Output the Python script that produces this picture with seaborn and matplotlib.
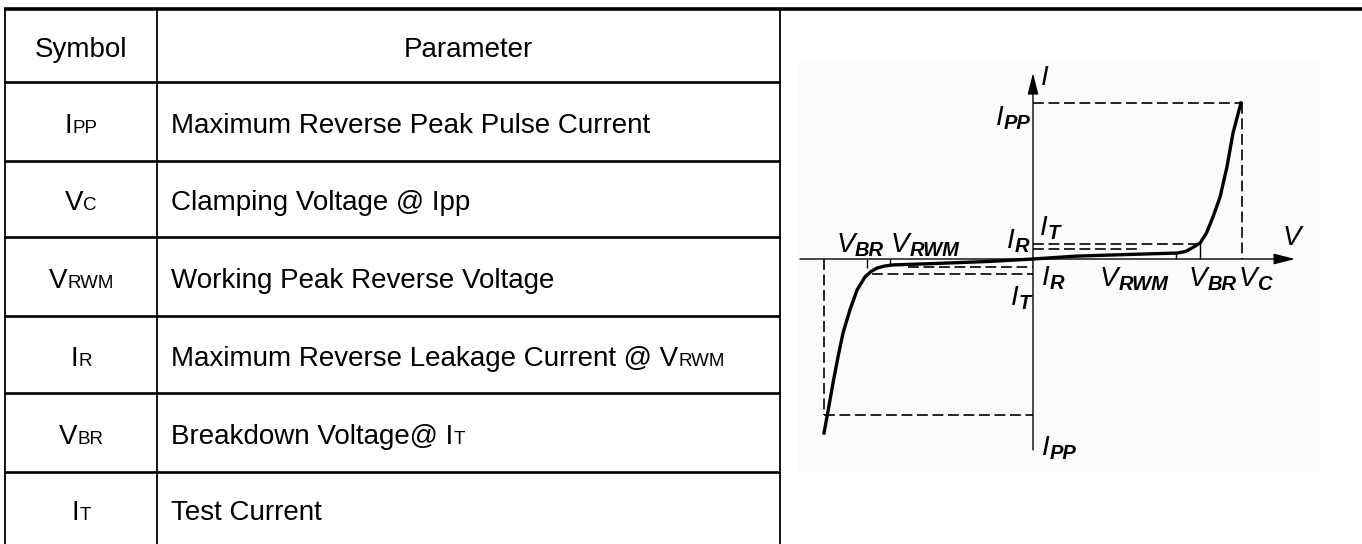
import matplotlib
matplotlib.use("Agg")
import matplotlib.pyplot as plt
import seaborn as sns
import pandas as pd

# table content
header = ["Symbol", "Parameter"]
sym_main = ["I", "V", "V", "I", "V", "I"]
sym_sub = ["PP", "C", "RWM", "R", "BR", "T"]
param_main = ["Maximum Reverse Peak Pulse Current",
              "Clamping Voltage @ Ipp",
              "Working Peak Reverse Voltage",
              "Maximum Reverse Leakage Current @ V",
              "Breakdown Voltage@ I",
              "Test Current"]
param_sub = ["", "", "", "RWM", "T", ""]

# I-V characteristic (normalised: V_C = 1, I_PP = 1)
V_C, V_BR, V_RWM = 1.0, 0.80, 0.684
I_PP, I_T, I_R = 1.0, 0.096, 0.064
I_T_NEG, I_R_NEG = -0.098, -0.05
curve_v = [-1.0, -0.98, -0.957, -0.933, -0.909, -0.876, -0.842, -0.804, -0.775, -0.746,
           -0.71, -0.67, -0.45, -0.2, 0.0, 0.2, 0.48, 0.688, 0.73, 0.765, 0.80, 0.83,
           0.861, 0.895, 0.928, 0.957, 0.995]
curve_i = [-1.115, -0.97, -0.795, -0.628, -0.474, -0.327, -0.199, -0.115, -0.08, -0.058,
           -0.045, -0.038, -0.028, -0.015, 0.0, 0.018, 0.03, 0.038, 0.048, 0.074, 0.103,
           0.167, 0.269, 0.397, 0.590, 0.808, 1.0]
tick_v = [V_RWM, V_BR, -V_RWM, -0.794]
tick_i = [0.045, 0.10, -0.038, -0.058]

W, H = 1362, 544
fig = plt.figure(figsize=(W / 100, H / 100), dpi=100)
renderer = fig.canvas.get_renderer()

# ---------- table (pixel axes) ----------
ax = fig.add_axes([0, 0, 1, 1])
ax.set_xlim(0, W)
ax.set_ylim(H, 0)
ax.axis("off")

row_y = [9, 82, 161, 237, 316, 393, 472, 552]
col_x = [5, 157, 780]

ax.hlines(9, 4, W, color="black", lw=2.6)
ax.hlines(row_y[1:-1], 4, 780, color="black", lw=1.9)
ax.vlines(col_x, 9, 552, color="black", lw=1.3)

# faint background of the pasted diagram
ax.add_patch(plt.Rectangle((798, 60), 522, 413, color="#fbfbfb", lw=0, zorder=0))


def measure(s, **kw):
    t = fig.text(0, 0, s, **kw)
    w = t.get_window_extent(renderer).width
    t.remove()
    return w


def compound(axis, x, y, main, sub, ha, main_kw, sub_kw, drop=0):
    w1 = measure(main, **main_kw)
    w2 = measure(sub, **sub_kw) if sub else 0
    total = w1 + w2
    dx = {"left": 0, "center": -total / 2, "right": -total}[ha]
    axis.annotate(main, (x, y), xytext=(dx * 0.72, 0), textcoords="offset points",
                  ha="left", va="baseline", **main_kw)
    if sub:
        axis.annotate(sub, (x, y), xytext=((dx + w1) * 0.72, -drop * 0.72),
                      textcoords="offset points", ha="left", va="baseline", **sub_kw)


tbl_main = dict(fontsize=20, family="Liberation Sans", color="black")
tbl_sub = dict(fontsize=13.5, family="Liberation Sans", color="black")

centers = [(row_y[i] + row_y[i + 1]) / 2 + 1.5 for i in range(7)]
centers[-1] = 510
compound(ax, 81, centers[0] + 10, header[0], "", "center", tbl_main, tbl_sub)
compound(ax, 468, centers[0] + 10, header[1], "", "center", tbl_main, tbl_sub)
for k in range(6):
    yb = centers[k + 1] + 10
    compound(ax, 81, yb, sym_main[k], sym_sub[k], "center", tbl_main, tbl_sub)
    compound(ax, 171, yb, param_main[k], param_sub[k], "left", tbl_main, tbl_sub)

# ---------- I-V diagram (data axes) ----------
ax2 = fig.add_axes([0, 0, 1, 1])
ax2.patch.set_alpha(0)

arrow = dict(arrowstyle="-|>,head_length=1.3,head_width=0.33", color="black",
             lw=1.0, shrinkA=0, shrinkB=0, mutation_scale=10)
ax2.annotate("", xy=(1.254, 0), xytext=(-1.115, 0), arrowprops=arrow)
ax2.annotate("", xy=(0, 1.192), xytext=(0, -1.224), arrowprops=arrow)

dash = dict(color="black", lw=1.2, ls=(0, (6.5, 2.8)))
ax2.plot([0, V_C], [I_PP, I_PP], **dash)
ax2.plot([V_C, V_C], [I_PP, 0], **dash)
ax2.plot([0, V_BR], [I_T, I_T], **dash)
ax2.plot([0, 0.5], [I_R, I_R], **dash)
ax2.plot([-V_C, -V_C], [0, -I_PP], **dash)
ax2.plot([-V_C, 0], [-I_PP, -I_PP], **dash)
ax2.plot([-0.77, 0], [I_T_NEG, I_T_NEG], **dash)
ax2.plot([-0.6, 0], [I_R_NEG, I_R_NEG], **dash)

ax2.vlines(tick_v, 0, tick_i, color="black", lw=1.0)

curve = pd.DataFrame({"V": curve_v, "I": curve_i})
sns.lineplot(data=curve, x="V", y="I", sort=False, color="black", lw=2.4, ax=ax2,
             solid_joinstyle="round")
ax2.set_xlim(-1033 / 209, (W - 1033) / 209)
ax2.set_ylim(-(H - 259) / 156, 259 / 156)
ax2.axis("off")

lab_main = dict(fontsize=20, family="Liberation Sans", style="italic", color="black")
lab_sub = dict(fontsize=14.5, family="Liberation Sans", style="italic",
               weight="bold", color="black")
labels = [
    ("I", "", 0.038, 1.115, "left"),
    ("V", "", 1.196, 0.09, "left"),
    ("I", "PP", -0.014, 0.859, "right"),
    ("I", "T", 0.033, 0.154, "left"),
    ("I", "R", -0.02, 0.071, "right"),
    ("I", "R", 0.043, -0.167, "left"),
    ("V", "RWM", 0.32, -0.173, "left"),
    ("V", "BR", 0.745, -0.173, "left"),
    ("V", "C", 0.985, -0.173, "left"),
    ("I", "T", -0.01, -0.295, "right"),
    ("I", "PP", 0.043, -1.256, "left"),
    ("V", "BR", -0.94, 0.045, "left"),
    ("V", "RWM", -0.68, 0.045, "left"),
]
for m, s, lx, ly, ha in labels:
    compound(ax2, lx, ly, m, s, ha, lab_main, lab_sub, drop=4)

fig.savefig("out.png", dpi=100)
